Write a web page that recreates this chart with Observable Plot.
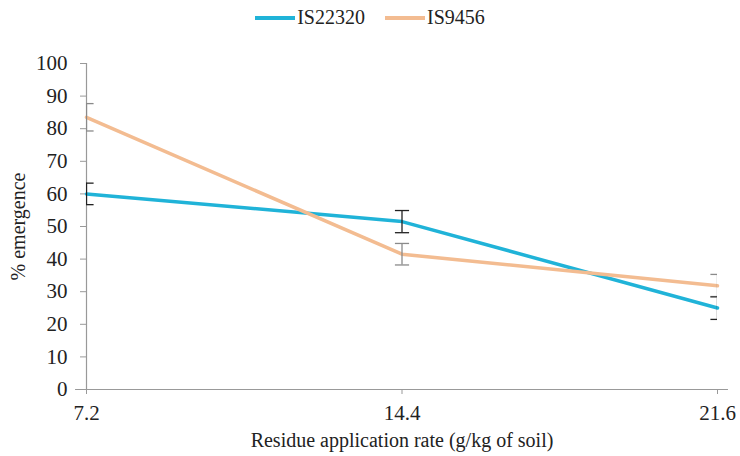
<!DOCTYPE html>
<html><head><meta charset="utf-8">
<script src="https://cdn.jsdelivr.net/npm/d3@7"></script>
<script src="https://cdn.jsdelivr.net/npm/@observablehq/plot@0.6"></script>
</head>
<body style="margin:0;background:#fff;font-family:'Liberation Serif'">
<div id="wrap" style="position:relative;width:740px;height:456px;font-family:'Liberation Serif'">
<div id="legend" style="position:absolute;top:6px;left:0;width:740px;display:flex;justify-content:center;align-items:center;font-size:20px;color:#222;font-family:'Liberation Serif'"></div>
</div>
<script>
const rates = [7.2, 14.4, 21.6];
const seriesNames = ["IS22320", "IS9456"];
const colors = ["#20b3d8", "#f3bc91"];
const errColors = ["#222222", "#8a8a8a"];
const is22320 = [60, 51.5, 25];
const is22320Err = [3.3, 3.4, 3.5];
const is9456 = [83.5, 41.5, 31.8];
const is9456Err = [4.2, 3.3, 3.5];
const yTicks = [0,10,20,30,40,50,60,70,80,90,100];

const rows = [];
[is22320, is9456].forEach((vals, s) => {
  const errs = s === 0 ? is22320Err : is9456Err;
  vals.forEach((v, i) => rows.push({series: seriesNames[s], x: rates[i], y: v, lo: v - errs[i], hi: v + errs[i]}));
});

const capSymbol = {draw(ctx, size){ const r = Math.sqrt(size); ctx.moveTo(-r,0); ctx.lineTo(r,0); }};

const plot = Plot.plot({
  width: 740, height: 456,
  marginLeft: 86, marginRight: 23, marginTop: 63, marginBottom: 67,
  style: {fontSize: "18px", color: "#222", background: "#fff"},
  x: {domain: [7.2, 21.6], ticks: rates, tickFormat: d => d.toFixed(1), label: null},
  y: {domain: [0, 100], ticks: yTicks, label: null},
  color: {domain: seriesNames, range: colors},
  marks: [
    Plot.ruleY([0], {stroke: "#999", strokeWidth: 1.2, x1: 6.95, x2: 21.85, clip: false}),
    Plot.ruleX([7.2], {stroke: "#999", strokeWidth: 1.2}),
    Plot.axisX({ticks: rates, tickFormat: d => d.toFixed(1), tickSize: 5, stroke: "#999", tickPadding: 11, fontSize: 21, label: null}),
    Plot.axisY({ticks: yTicks, tickSize: 6, stroke: "#999", tickPadding: 13, fontSize: 21, label: null}),
    Plot.line(rows, {x: "x", y: "y", z: "series", stroke: "series", strokeWidth: 3.5}),
    Plot.ruleX(rows, {x: "x", y1: "lo", y2: "hi", stroke: d => errColors[seriesNames.indexOf(d.series)], strokeWidth: 1.3, clip: true}),
    Plot.dot(rows, {x: "x", y: "hi", symbol: capSymbol, r: 4, stroke: d => errColors[seriesNames.indexOf(d.series)], strokeWidth: 1.3, fill: "none", clip: true}),
    Plot.dot(rows, {x: "x", y: "lo", symbol: capSymbol, r: 4, stroke: d => errColors[seriesNames.indexOf(d.series)], strokeWidth: 1.3, fill: "none", clip: true}),
    Plot.text(["% emergence"], {frameAnchor: "left", rotate: -90, textAnchor: "middle", dx: -68, fontSize: 20}),
    Plot.text(["Residue application rate (g/kg of soil)"], {frameAnchor: "bottom", dy: 57, fontSize: 20, wordSpacing: 5})
  ]
});
plot.querySelectorAll("text, g").forEach(el => el.setAttribute("font-family", "Liberation Serif"));
plot.style.fontFamily = "'Liberation Serif'";
document.getElementById("wrap").appendChild(plot);

const lg = document.getElementById("legend");
seriesNames.forEach((n, i) => {
  const it = document.createElement("div");
  it.style.cssText = "display:flex;align-items:center;margin:0 10px;";
  const sw = document.createElement("div");
  sw.style.cssText = "width:40px;height:4px;margin-right:2px;background:" + colors[i];
  const t = document.createElement("span"); t.textContent = n;
  it.appendChild(sw); it.appendChild(t); lg.appendChild(it);
});
</script></body></html>
